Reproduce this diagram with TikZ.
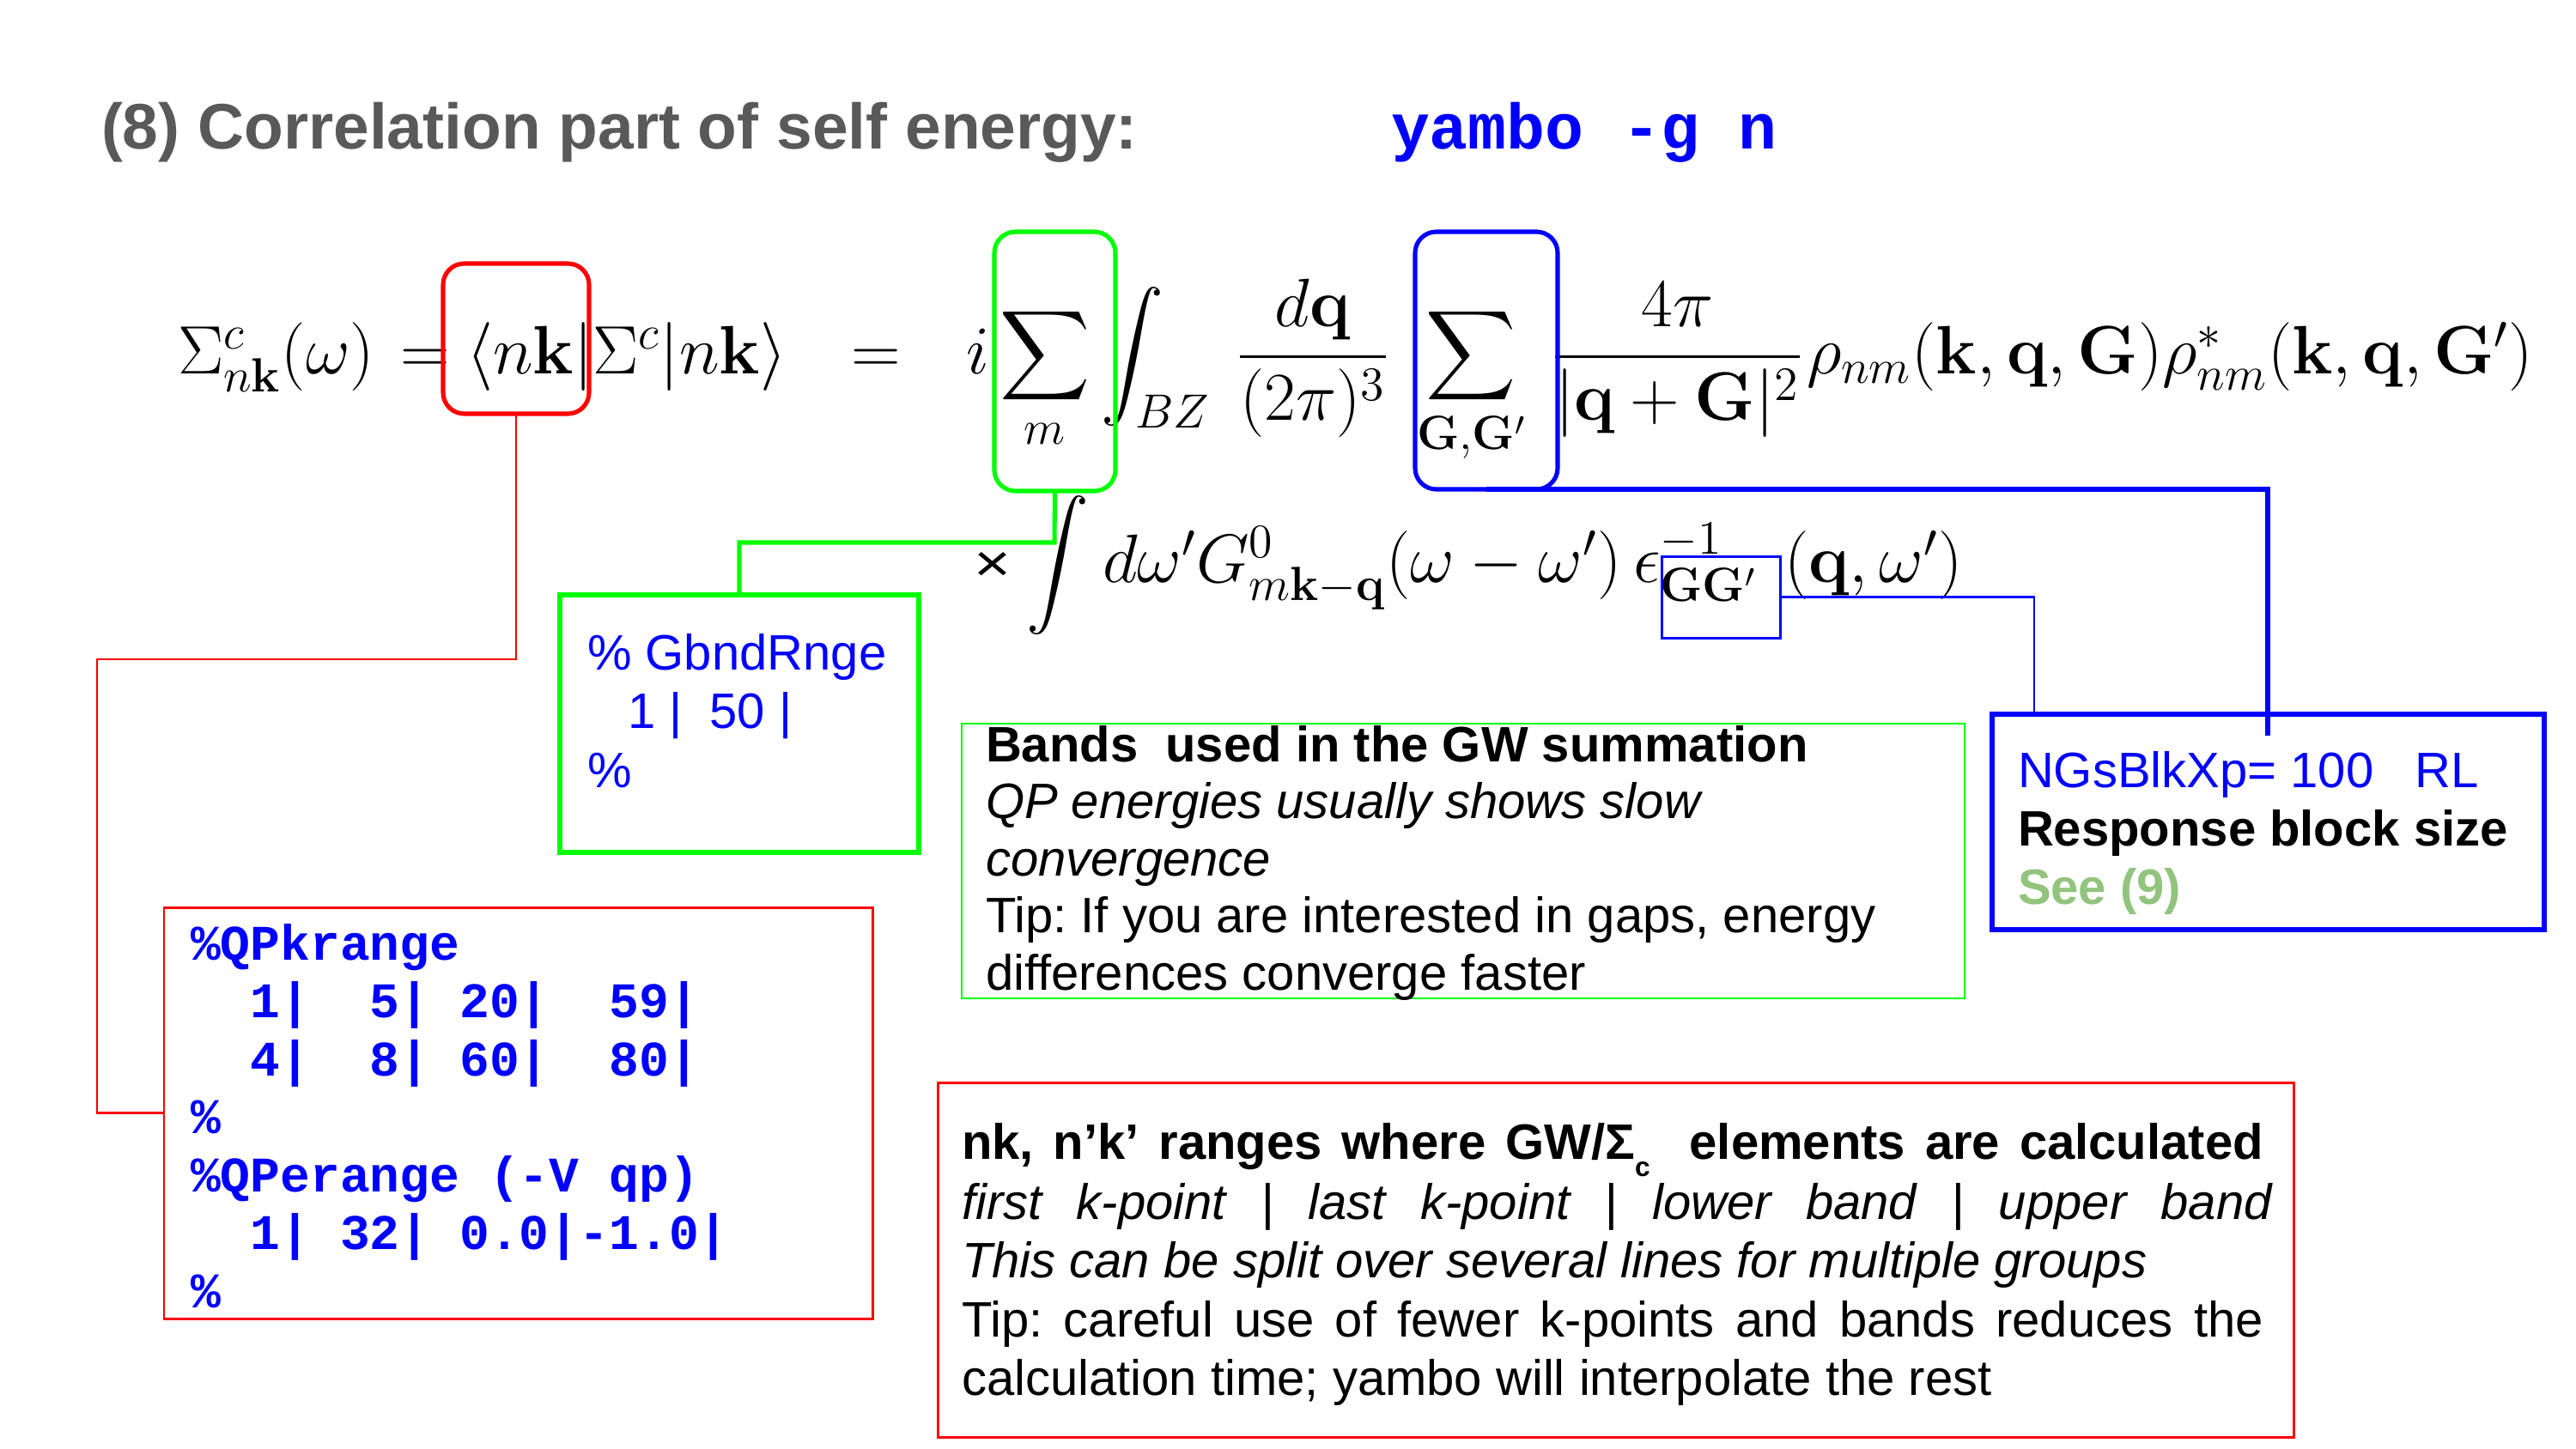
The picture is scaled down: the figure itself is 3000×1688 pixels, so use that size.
\RequirePackage{fix-cm}
\documentclass[tikz,border=0pt]{standalone}
\usepackage{exscale}
\usepackage[no-math]{fontspec}
\usetikzlibrary{fit,calc}
\newfontfamily\arial{Liberation Sans}
\newfontfamily\cour{Liberation Mono}
\newcommand\fsTitle{\fontsize{21.3}{25}\selectfont}
\newcommand\fsBody{\fontsize{16.5}{19.35}\selectfont}
\newcommand\fsMath{\fontsize{22.7}{27}\selectfont}
\definecolor{titlegray}{HTML}{595959}
\definecolor{seegreen}{RGB}{146,196,125}
\definecolor{boxgreen}{HTML}{00FF00}
\definecolor{boxblue}{HTML}{0000FF}
\definecolor{boxred}{HTML}{FF0000}
\frenchspacing
\begin{document}
\begin{tikzpicture}[x=0.01cm,y=-0.01cm,
  txt/.style={anchor=base west, inner sep=0pt, outer sep=0pt},
  mtxt/.style={txt, font=\fsMath},
  body/.style={txt, font=\fsBody\arial},
  code/.style={txt, font=\fsBody\cour\bfseries, text=boxblue},
  fitbox/.style={inner sep=0pt, outer sep=0pt},
  rndbox/.style={fitbox, rounded corners=7pt, line width=1.45pt},
  redrnd/.style={rndbox, draw=boxred},
  greenrnd/.style={rndbox, draw=boxgreen},
  bluernd/.style={rndbox, draw=boxblue},
  redbox/.style={fitbox, draw=boxred, line width=0.85pt},
  greenthin/.style={fitbox, draw=boxgreen, line width=0.8pt},
  greenthick/.style={fitbox, draw=boxgreen, line width=1.45pt},
  bluethickbox/.style={fitbox, draw=boxblue, line width=1.45pt},
  bluethinbox/.style={fitbox, draw=boxblue, line width=0.85pt},
  redline/.style={draw=boxred, line width=0.7pt},
  greenline/.style={draw=boxgreen, line width=1.45pt},
  bluethick/.style={draw=boxblue, line width=1.45pt},
  bluethin/.style={draw=boxblue, line width=0.75pt}
]
\useasboundingbox (0,0) rectangle (3000,1688);

% title
\node[txt, font=\fsTitle\arial\bfseries, text=titlegray] (title) at (118,173) {(8) Correlation part of self energy:};
\node[txt, font=\fsTitle\cour\bfseries, text=boxblue] (cmd) at (1620,173) {yambo -g n};

% equation line 1
\node[mtxt] (eqA) at (207,435) {$\Sigma^c_{n\mathbf{k}}(\omega)$};
\node[mtxt] (eqA2) at (466,435) {$=$};
\node[mtxt] (eqB) at (543,435) {$\langle n\mathbf{k}|\Sigma^c|n\mathbf{k}\rangle$};
\node[mtxt] (eqC) at (991,435) {$=$};
\node[mtxt] (eqD) at (1125,435) {$i$};
\node[mtxt] (eqE) at (1164,435) {$\displaystyle\sum_m$};
\node[mtxt] (eqF) at (1282,435) {$\displaystyle\int_{BZ}$};
\node[mtxt] (eqF2) at (1440,435) {$\displaystyle\frac{d\mathbf{q}}{(2\pi)^3}$};
\node[mtxt] (eqG) at (1650,435) {$\displaystyle\sum_{\mathbf{G},\mathbf{G}'}$};
\node[mtxt] (eqH) at (1807,435) {$\displaystyle\frac{4\pi}{|\mathbf{q}+\mathbf{G}|^2}$};
\node[mtxt] (eqH2) at (2104,435) {$\rho_{nm}(\mathbf{k},\mathbf{q},\mathbf{G})\rho^*_{nm}(\mathbf{k},\mathbf{q},\mathbf{G}')$};
% equation line 2
\node[txt] (eqX) at (1134,677) {\resizebox{0.43cm}{0.34cm}{\arial ×}};
\node[mtxt] (eqI) at (1195,678) {$\displaystyle\int$};
\node[mtxt] (eqI2) at (1284,678) {$d\omega' G^0_{m\mathbf{k}-\mathbf{q}}(\omega-\omega')$};
\node[mtxt] (eqI3) at (1902,678) {$\epsilon^{-1}_{\mathbf{G}\mathbf{G}'}$};
\node[mtxt] (eqI4) at (2078,678) {$(\mathbf{q},\omega')$};

% highlight boxes on the equation
\node[redrnd, fit={(516,307) (686,482)}] (nkbox) {};
\node[greenrnd, fit={(1158,270) (1299,572)}] (sumMbox) {};
\node[bluernd, fit={(1648,270) (1814,570)}] (sumGbox) {};
\node[bluethinbox, fit={(1935,648) (2073,743)}] (epsbox) {};

% GbndRnge box
\node[greenthick, fit={(652,693) (1070,993)}] (gb) {};
\node[body, text=boxblue] (gb1) at (684,780) {\% GbndRnge};
\node[body, text=boxblue] (gb2) at (731,848) {1 |\ \ 50 |};
\node[body, text=boxblue] (gb3) at (684,917) {\%};

% QP box
\node[redbox, fit={(191,1057) (1016,1536)}] (qp) {};
\node[code] (qp1) at (222,1118) {\%QPkrange};
\node[code] (qp2) at (222,1185.5) {\ \ 1|\ \ 5|\ 20|\ \ 59|};
\node[code] (qp3) at (222,1253) {\ \ 4|\ \ 8|\ 60|\ \ 80|};
\node[code] (qp4) at (222,1320.5) {\%};
\node[code] (qp5) at (222,1388) {\%QPerange (-V qp)};
\node[code] (qp6) at (222,1455.5) {\ \ 1|\ 32|\ 0.0|-1.0|};
\node[code] (qp7) at (222,1523) {\%};

% Bands box
\node[greenthin, fit={(1120,843) (2288,1163)}] (bands) {};
\node[body, font=\fsBody\arial\bfseries] (bd1) at (1148,887) {Bands\ \ used in the GW summation};
\node[body, font=\fsBody\arial\itshape] (bd2) at (1148,953.5) {QP energies usually shows slow};
\node[body, font=\fsBody\arial\itshape] (bd3) at (1148,1020) {convergence};
\node[body] (bd4) at (1148,1086.5) {Tip: If you are interested in gaps, energy};
\node[body] (bd5) at (1148,1153) {differences converge faster};

% NGsBlkXp box
\node[bluethickbox, fit={(2320,832) (2963,1083)}] (ngs) {};
\node[body, text=boxblue] (ng1) at (2350,917) {NGsBlkXp= 100\ \ \ RL};
\node[body, font=\fsBody\arial\bfseries] (ng2) at (2350,985) {Response block size};
\node[body, font=\fsBody\arial\bfseries, text=seegreen] (ng3) at (2350,1053) {See (9)};

% nk ranges box
\node[redbox, fit={(1092,1261) (2671,1674)}] (nkr) {};
\node[body, font=\fsBody\arial\bfseries] (nk1) at (1120,1350) {\makebox[15.15cm][s]{nk, n’k’ ranges where GW/Σ\raisebox{-0.2cm}{\fontsize{9}{10}\selectfont c}\ \ elements are calculated}};
\node[body, font=\fsBody\arial\itshape] (nk2) at (1120,1420) {\makebox[15.25cm][s]{first k-point | last k-point | lower band | upper band}};
\node[body, font=\fsBody\arial\itshape] (nk3) at (1120,1488) {This can be split over several lines for multiple groups};
\node[body] (nk4) at (1120,1557) {\makebox[15.15cm][s]{Tip: careful use of fewer k-points and bands reduces the}};
\node[body] (nk5) at (1120,1625) {calculation time; yambo will interpolate the rest};

% connectors
\coordinate (r1) at (601,768);
\coordinate (r2) at (113,768);
\draw[redline] (nkbox.south) -- (r1) -- (r2) |- (qp.west);
\coordinate (g1) at (1228,632);
\draw[greenline] (sumMbox.south) -- (g1) -| (gb.north);
\coordinate (b1) at (2641,570);
\draw[bluethick] (sumGbox.south) -- (b1) -- ($(b1 |- ngs.north)+(0,25)$);
\coordinate (b2) at (2369,695.5);
\draw[bluethin] (epsbox.east) -- (b2) -- (b2 |- ngs.north);
\end{tikzpicture}
\end{document}
